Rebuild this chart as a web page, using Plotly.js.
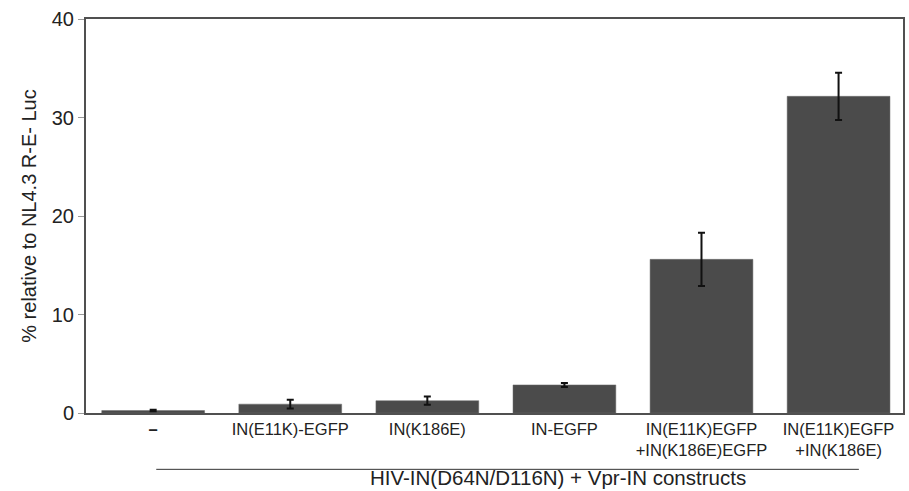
<!DOCTYPE html>
<html><head><meta charset="utf-8">
<script src="https://cdn.plot.ly/plotly-3.0.1.min.js"></script>
<style>html,body{margin:0;padding:0;background:#fff}</style>
</head><body>
<div id="chart" style="width:909px;height:491px"></div>
<script>
const categories = ["-", "IN(E11K)-EGFP", "IN(K186E)", "IN-EGFP", "IN(E11K)EGFP<br>+IN(K186E)EGFP", "IN(E11K)EGFP<br>+IN(K186E)"];
const tickLabels = ["<b>–</b>", "IN(E11K)-EGFP", "IN(K186E)", "IN-EGFP", "IN(E11K)EGFP<br>+IN(K186E)EGFP", "IN(E11K)EGFP<br>+IN(K186E)"];
const values = [0.25, 0.9, 1.25, 2.85, 15.6, 32.15];
const errors = [0.08, 0.45, 0.42, 0.2, 2.7, 2.4];
const yTicks = [0, 10, 20, 30, 40];

const trace = {
  type: "bar",
  x: categories,
  y: values,
  marker: {color: "#4b4b4b", line: {color: "#6a6a6a", width: 0.5}},
  width: 0.75,
  error_y: {type: "data", array: errors, visible: true, color: "#111", thickness: 2, width: 3.5}
};

const layout = {
  width: 909, height: 491,
  margin: {l: 86, r: 6, t: 19, b: 78},
  paper_bgcolor: "#fff", plot_bgcolor: "#fff",
  showlegend: false,
  font: {family: "Liberation Sans, Arial, sans-serif", color: "#222"},
  xaxis: {
    type: "category",
    range: [-0.49, 5.47],
    tickvals: categories, ticktext: tickLabels,
    showline: true, mirror: true, linecolor: "#505050", linewidth: 2,
    ticks: "", tickfont: {size: 16.5, color: "#222"},
    showgrid: false, zeroline: false
  },
  yaxis: {
    range: [0, 40],
    tickvals: yTicks,
    showline: true, mirror: true, linecolor: "#505050", linewidth: 2,
    ticks: "outside", ticklen: 6, tickcolor: "#999", tickwidth: 1,
    tickfont: {size: 20, color: "#222"},
    showgrid: false, zeroline: false,
    title: {text: "% relative to NL4.3 R-E- Luc", font: {size: 20, color: "#222"}, standoff: 10}
  },
  shapes: [
    {type: "line", xref: "paper", yref: "paper", x0: 0.086, x1: 0.946, y0: -0.143, y1: -0.143, line: {color: "#333", width: 1}}
  ],
  annotations: [
    {xref: "paper", yref: "paper", x: 0.578, y: -0.197, text: "HIV-IN(D64N/D116N) + Vpr-IN constructs", showarrow: false, xanchor: "center", yanchor: "bottom", font: {size: 20.5, color: "#222"}}
  ]
};

Plotly.newPlot("chart", [trace], layout, {displayModeBar: false, staticPlot: true});
</script>
</body></html>
